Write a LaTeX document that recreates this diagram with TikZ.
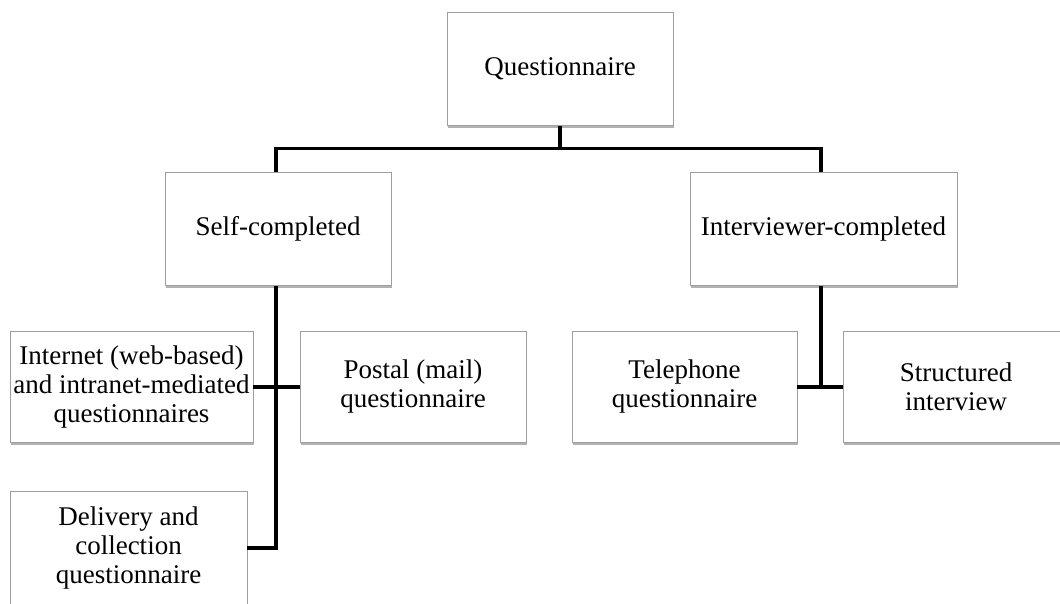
\documentclass[tikz,border=0pt]{standalone}
\usepackage{fontspec}
\setmainfont{Liberation Serif}
\usetikzlibrary{shadows}
\begin{document}
\begin{tikzpicture}[x=1pt,y=-1pt,
  box/.style={draw=black!38, line width=0.9pt, fill=white, inner sep=0pt,
    align=center, font=\fontsize{27}{29}\selectfont,
    drop shadow={shadow xshift=1pt, shadow yshift=-2.5pt, opacity=0.3, fill=black}},
  link/.style={line width=3.4pt, black}]
\useasboundingbox (0,0) rectangle (1060,604);
\clip (0,0) rectangle (1060,604);

% boxes
\node[box, minimum width=226pt, minimum height=113pt] (q) at (560,69) {Questionnaire};
\node[box, minimum width=226pt, minimum height=113pt] (self) at (278,229) {Self-completed};
\node[box, minimum width=267pt, minimum height=113pt] (intv) at (823.5,229) {Interviewer-completed};
\node[box, minimum width=243pt, minimum height=111pt] (web) at (131.5,387) {Internet (web-based)\\and intranet-mediated\\questionnaires};
\node[box, minimum width=226pt, minimum height=111pt] (post) at (413,387) {Postal (mail)\\questionnaire};
\node[box, minimum width=237pt, minimum height=114pt] (deliv) at (128.5,548) {Delivery and\\collection\\questionnaire};
\node[box, minimum width=225pt, minimum height=111pt] (tel) at (684.5,387) {Telephone\\questionnaire};
\node[box, minimum width=226pt, minimum height=111pt] (struct) at (956,387) {Structured\\interview};

% branch points
\coordinate (top) at (q.south |- 0,148.5);
\coordinate (sv) at (276,0);
\coordinate (iv) at (821,0);

% connectors
\draw[link] (q.south) -- (top);
\draw[link] (self.north -| sv) |- (top) -| (intv.north -| iv);
\draw[link] (self.south -| sv) -- (sv |- deliv.east) -- (deliv.east);
\draw[link] (web.east) -- (post.west);
\draw[link] (intv.south -| iv) -- (iv |- tel.east);
\draw[link] (tel.east) -- (struct.west);
\end{tikzpicture}
\end{document}
